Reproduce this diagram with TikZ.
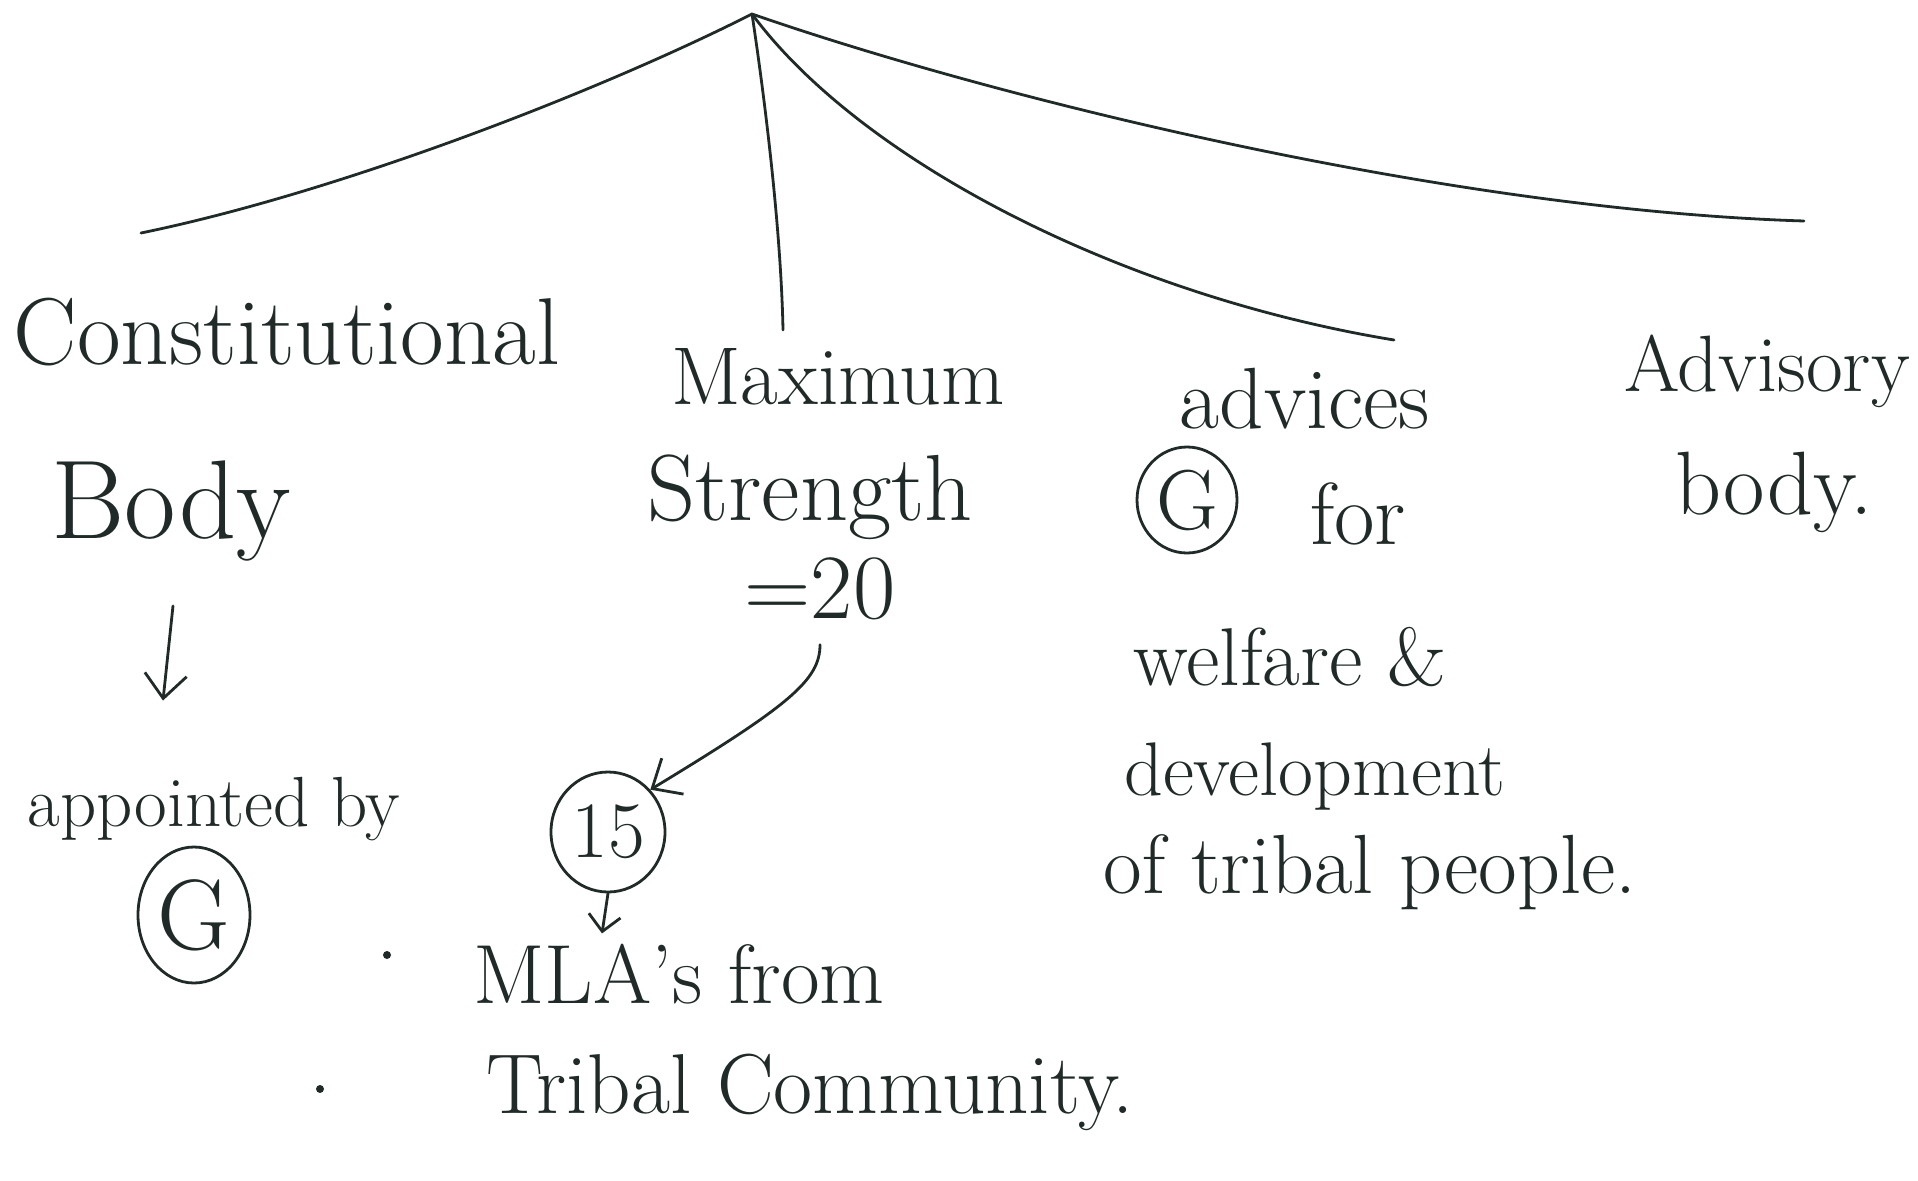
\documentclass[tikz,border=0pt]{standalone}
\usepackage{fontspec}
\usetikzlibrary{arrows.meta,shapes.geometric}
\definecolor{ink}{RGB}{32,42,40}
\begin{document}
\begin{tikzpicture}[x=1pt,y=-1pt,
  inkline/.style={draw=ink,line width=2.8pt,line cap=round,line join=round},
  word/.style={text=ink,inner sep=0pt,anchor=base,font=\fontsize{#1}{#1}\selectfont},
  ring/.style={draw=ink,line width=2.8pt,ellipse,inner sep=0pt,text=ink},
  barb/.style={-{Straight Barb[length=24pt,width=42pt,line width=2.8pt]}},
  smallbarb/.style={-{Straight Barb[length=16pt,width=32pt,line width=2.8pt]}}
]
\useasboundingbox (0,0) rectangle (1918,1180);

% text
\node[word=95] (const) at (287,364) {Constitutional};
\node[word=112] (body) at (171,538) {Body};
\node[word=71] (appt) at (214,826) {appointed by};
\node[ring,minimum width=112pt,minimum height=136pt,font=\fontsize{100}{100}\selectfont] (gA) at (194,915) {G};
\node[word=82] (max) at (838,404) {Maximum};
\node[word=94] (str) at (810,520) {Strength};
\node[word=92] (eq) at (820,618) {=20};
\node[ring,minimum width=114pt,minimum height=120pt,font=\fontsize{80}{80}\selectfont] (fif) at (608,832) {15};
\node[word=84] (mla) at (679,1003) {MLA's from};
\node[word=85] (trib) at (810,1113) {Tribal Community.};
\node[word=87] (adv) at (1305,428) {advices};
\node[ring,minimum width=100pt,minimum height=106pt,font=\fontsize{85}{85}\selectfont] (gB) at (1187,500) {G};
\node[word=88] (for) at (1358,544) {for};
\node[word=82] (welf) at (1290,685) {welfare \&};
\node[word=76] (dev) at (1315,795) {development};
\node[word=84] (tribal) at (1370,893) {of tribal people.};
\node[word=80] (advis) at (1767,391) {Advisory};
\node[word=90] (bodyB) at (1774,514) {body.};

% dots
\fill[ink] (387,955) circle (4);
\fill[ink] (320,1089) circle (4);

% tree branches
\coordinate (root) at (752,14);
\coordinate (e1) at (141,233);
\coordinate (e2) at (783,330);
\coordinate (e3) at (1394,340);
\coordinate (e4) at (1804,221);
\draw[inkline] (root) .. controls (602,90) and (341,192) .. (e1);
\draw[inkline] (root) .. controls (765,100) and (781,230) .. (e2);
\draw[inkline] (root) .. controls (860,160) and (1120,295) .. (e3);
\draw[inkline] (root) .. controls (1000,100) and (1450,210) .. (e4);

% arrows
\draw[inkline,barb] ([xshift=2pt,yshift=-45pt]body.south) -- ([xshift=-51pt,yshift=76pt]appt.north);
\draw[inkline,barb] ([yshift=-25pt]eq.south) .. controls (820,680) and (790,705) .. (fif.45);
\draw[inkline,smallbarb] (fif.south) -- ([xshift=-77pt,yshift=10pt]mla.north);
\end{tikzpicture}
\end{document}
